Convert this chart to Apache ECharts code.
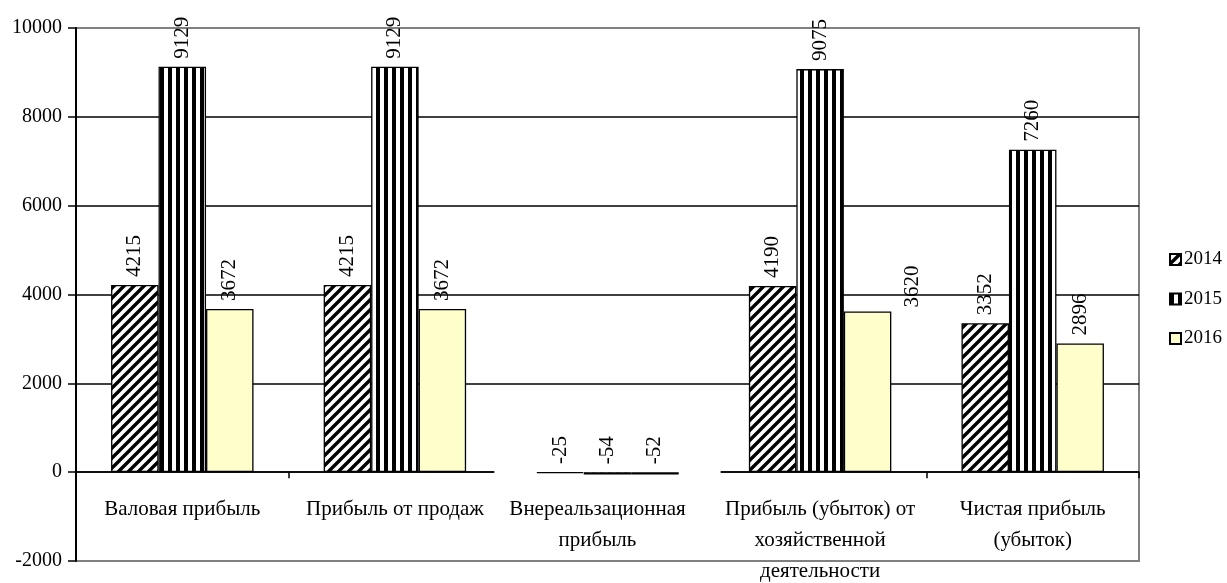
<!DOCTYPE html>
<html>
<head>
<meta charset="utf-8">
<script src="https://cdn.jsdelivr.net/npm/echarts@6/dist/echarts.min.js"></script>
<style>
html,body{margin:0;padding:0;background:#fff;}
#chart{width:1227px;height:583px;}
</style>
</head>
<body>
<div id="chart"></div>
<script>
const categories = ['Валовая прибыль', 'Прибыль от продаж', 'Внереальзационная\nприбыль', 'Прибыль (убыток) от\nхозяйственной\nдеятельности', 'Чистая прибыль\n(убыток)'];
const seriesNames = ['2014', '2015', '2016'];
const values2014 = [4215, 4215, -25, 4190, 3352];
const values2015 = [9129, 9129, -54, 9075, 7260];
const values2016 = [3672, 3672, -52, 3620, 2896];
const yMin = -2000, yMax = 10000, yStep = 2000;

const FONT = "'Liberation Serif', 'Times New Roman', serif";

function hatchPattern() {
  const c = document.createElement('canvas');
  c.width = 10; c.height = 10;
  const g = c.getContext('2d');
  g.fillStyle = '#fff'; g.fillRect(0, 0, 10, 10);
  g.strokeStyle = '#000'; g.lineWidth = 3.4; g.lineCap = 'square';
  g.beginPath();
  g.moveTo(-2, 2); g.lineTo(2, -2);
  g.moveTo(0, 10); g.lineTo(10, 0);
  g.moveTo(8, 12); g.lineTo(12, 8);
  g.stroke();
  return c;
}
function stripePattern() {
  const c = document.createElement('canvas');
  c.width = 8; c.height = 8;
  const g = c.getContext('2d');
  g.fillStyle = '#fff'; g.fillRect(0, 0, 8, 8);
  g.fillStyle = '#000'; g.fillRect(0, 0, 4, 8);
  return c;
}

const fills = [
  { image: hatchPattern(), repeat: 'repeat' },
  { image: stripePattern(), repeat: 'repeat' },
  '#FFFFCC'
];
const allValues = [values2014, values2015, values2016];

// Excel placed one label off to the side
const labelShift = { '2-3': [-4, 45] };

const series = seriesNames.map((name, si) => ({
  name: name,
  type: 'bar',
  barGap: '0%',
  barCategoryGap: '33%',
  itemStyle: { color: fills[si], borderColor: '#000', borderWidth: 1.3 },
  label: {
    show: true,
    position: 'top',
    rotate: 90,
    align: 'left',
    verticalAlign: 'middle',
    distance: 8,
    color: '#000',
    fontFamily: FONT,
    fontSize: 21
  },
  data: allValues[si].map((v, di) => {
    const sh = labelShift[si + '-' + di];
    return sh ? { value: v, label: { offset: sh } } : v;
  })
}));

const splitColors = [];
for (let t = yMin; t <= yMax; t += yStep) {
  splitColors.push(t === yMin || t === yMax ? '#808080' : '#000');
}

// Excel's label box for the 3rd category hides the zero line and sits a bit to the left
const xData = categories.map((c, i) => {
  if (i === 2) {
    return {
      value: c.split('\n').map(l => l + '    ').join('\n'),
      textStyle: { backgroundColor: '#fff', padding: [24, 14, 4, 15] }
    };
  }
  return { value: c, textStyle: { padding: [24, 0, 0, 0] } };
});

const chart = echarts.init(document.getElementById('chart'), null, { renderer: 'canvas' });
chart.setOption({
  animation: false,
  backgroundColor: '#fff',
  grid: {
    left: 76, right: 88, top: 28, bottom: 22,
    containLabel: false,
    outerBoundsMode: 'none',
    show: true, borderColor: '#808080', borderWidth: 2, backgroundColor: 'transparent'
  },
  legend: {
    orient: 'vertical',
    left: 1164,
    top: 245,
    itemWidth: 11,
    itemHeight: 11,
    itemGap: 20.5,
    icon: 'rect',
    data: seriesNames,
    textStyle: { fontFamily: FONT, fontSize: 19, color: '#000', padding: [0, 0, 0, -2] }
  },
  xAxis: {
    type: 'category',
    data: xData,
    z: 1,
    axisLine: { onZero: true, lineStyle: { color: '#000', width: 1.5 } },
    axisTick: { show: true, alignWithLabel: false, length: 6, lineStyle: { color: '#000', width: 1.5 } },
    axisLabel: {
      interval: 0,
      margin: -91,
      color: '#000',
      fontFamily: FONT,
      fontSize: 21,
      lineHeight: 31,
      hideOverlap: false
    },
    splitLine: { show: false }
  },
  yAxis: {
    type: 'value',
    min: yMin, max: yMax, interval: yStep,
    z: 0,
    axisLine: { show: true, lineStyle: { color: '#000', width: 2 } },
    axisTick: { show: true, length: 8, lineStyle: { color: '#000', width: 1.5 } },
    axisLabel: { color: '#000', fontFamily: FONT, fontSize: 20, margin: 14, formatter: v => String(v) },
    splitLine: { show: true, lineStyle: { color: splitColors, width: 1.5 } }
  },
  series: series
});
</script>
</body>
</html>
